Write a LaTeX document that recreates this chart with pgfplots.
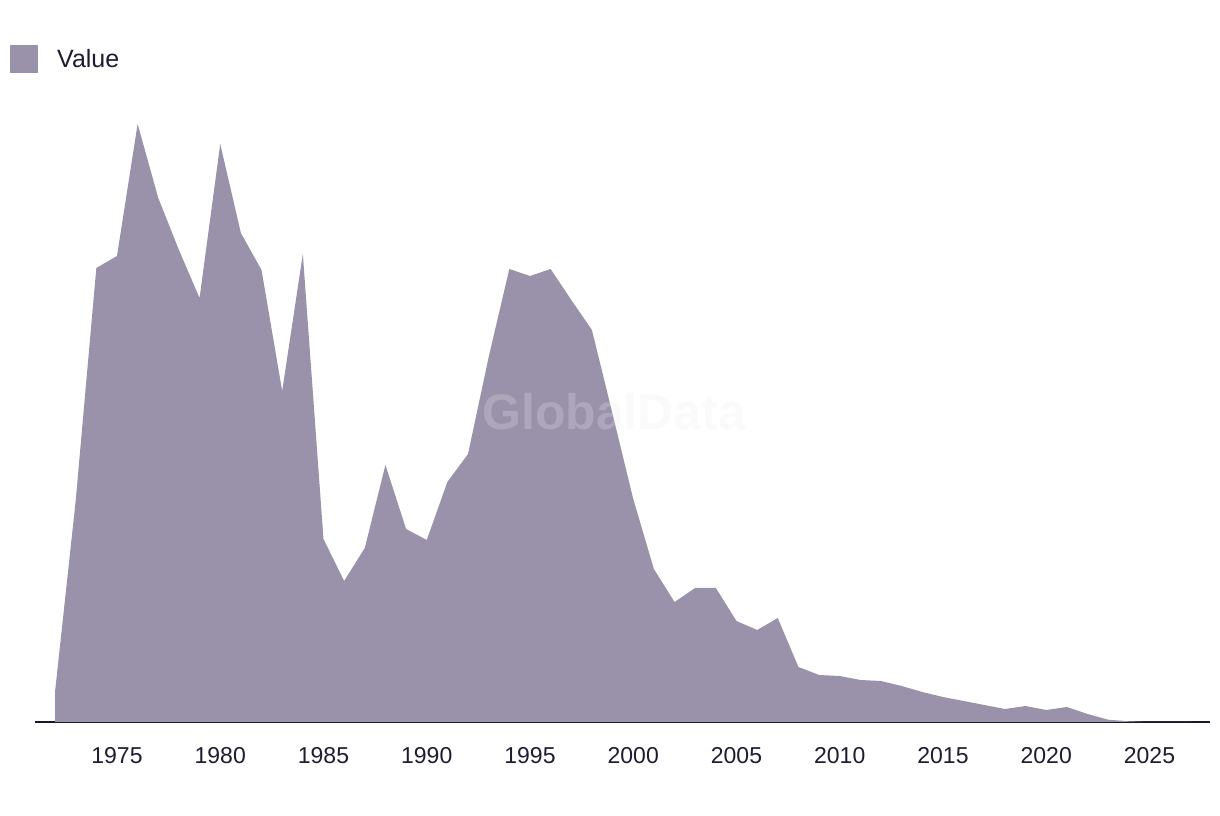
\documentclass[border=0pt]{standalone}
\usepackage{pgfplots}
\pgfplotsset{compat=1.18}
\usepackage{fontspec}
\setmainfont{Liberation Sans}
\definecolor{areacol}{HTML}{9A91AB}
\definecolor{axiscol}{HTML}{1B1829}
\definecolor{textcol}{HTML}{1F1B30}
\begin{document}
\begin{tikzpicture}
\useasboundingbox (0,0) rectangle (1220pt,816pt);
\begin{axis}[
  at={(35pt,94pt)}, anchor=south west,
  scale only axis,
  width=1175pt, height=700pt,
  xmin=1971.03, xmax=2027.93,
  ymin=0, ymax=700,
  axis y line=none,
  axis x line*=bottom,
  x axis line style={line width=2pt, color=axiscol, -},
  xtick={1975,1980,1985,1990,1995,2000,2005,2010,2015,2020,2025},
  xticklabels={1975,1980,1985,1990,1995,2000,2005,2010,2015,2020,2025},
  major tick length=0pt,
  xticklabel style={font=\fontsize{23}{27}\selectfont, text=textcol, anchor=north, yshift=-22pt},
  legend style={draw=none, fill=none, at={(axis description cs:0,1)}, anchor=north west,
    xshift=-25pt, yshift=-23pt, font=\fontsize{25}{29}\selectfont, text=textcol,
    inner sep=0pt, column sep=0pt},
  legend cell align=left,
  clip=false,
]
\addplot[fill=areacol, draw=none, area legend,
  legend image code/.code={\fill[areacol] (0pt,-14pt) rectangle (28pt,14pt);}]
coordinates {
(1972,0)(1972,30)(1973,221)(1974,454)(1975,466)(1976,598)(1977,524)(1978,472)(1979,424)
(1980,578)(1981,489)(1982,452)(1983,331)(1984,468)(1985,183)(1986,141)(1987,174)
(1988,257)(1989,193)(1990,182)(1991,240)(1992,268)(1993,365)(1994,453)(1995,446)
(1996,453)(1997,422)(1998,392)(1999,308)(2000,223)(2001,153)(2002,120)(2003,134)
(2004,134)(2005,101)(2006,92)(2007,104)(2008,55)(2009,47)(2010,46)(2011,42)
(2012,41)(2013,36)(2014,30)(2015,25)(2016,21)(2017,17)(2018,13)(2019,16)
(2020,12)(2021,15)(2022,8)(2023,2.3)(2024,0.7)(2025,0)(2027,0)
} \closedcycle;
\addlegendentry{\hspace{17pt}Value}
\node[font=\bfseries\fontsize{50}{55}\selectfont, text=black!8, opacity=0.25]
  at (axis description cs:0.493,0.444) {GlobalData};
\end{axis}
\end{tikzpicture}
\end{document}
